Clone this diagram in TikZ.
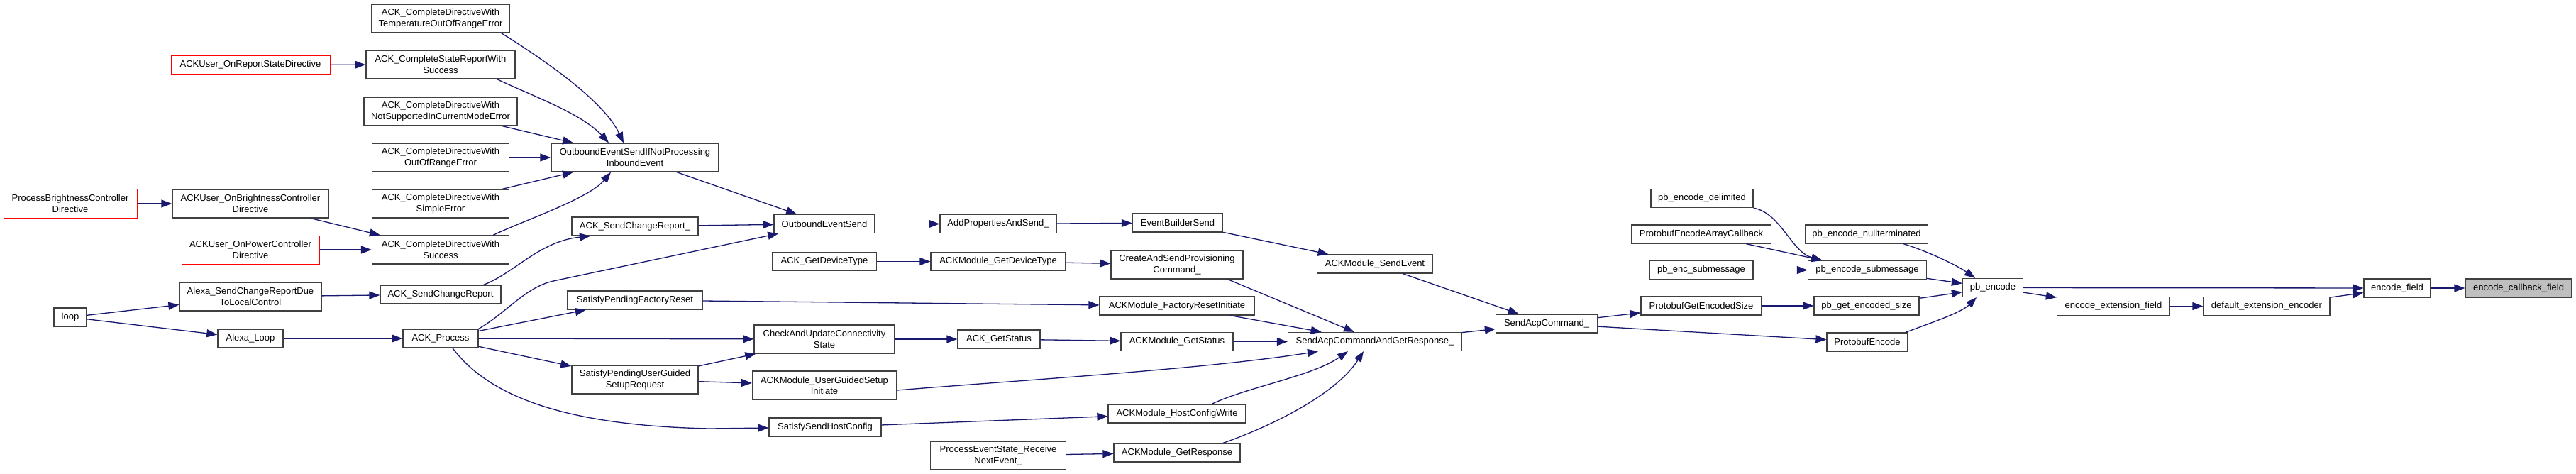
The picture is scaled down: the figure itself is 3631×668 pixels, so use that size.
\documentclass[tikz,border=0pt]{standalone}
\usepackage{fontspec}
\setmainfont{Liberation Sans}
\usepackage{xcolor}
\usepackage{tikz}
\usetikzlibrary{arrows.meta, positioning}
\definecolor{midblue}{HTML}{191970}
\definecolor{boxgrey}{HTML}{404040}
\definecolor{rootfill}{HTML}{BFBFBF}

\tikzset{
    fnbox/.style={draw=boxgrey, line width=1.3pt, fill=white, minimum height=26pt, inner sep=2pt, align=center},
    twoline/.style={minimum height=40pt},
    truncbox/.style={fnbox, draw=red, line width=1pt},
    rootbox/.style={fnbox, fill=rootfill},
    call/.style={-{Triangle[length=15pt, width=11pt]}, draw=midblue, line width=1.3pt}
}

\begin{document}
\begin{tikzpicture}[x=1pt, y=-1pt, font=\fontsize{13}{15.3}\selectfont]
    \fill[white] (0,0) rectangle (3631,668);
    \useasboundingbox (0,0) rectangle (3631,668);

    % Callers of the directive helpers
    \node[truncbox, twoline, minimum width=188] (procBright) at (99,287) {ProcessBrightnessController\\Directive};
    \node[fnbox, minimum width=46] (loop) at (99,447) {loop};
    \node[truncbox, minimum width=224] (onReport) at (353,91.5) {ACKUser\_OnReportStateDirective};
    \node[fnbox, twoline, minimum width=220] (onBright) at (353,287) {ACKUser\_OnBrightnessController\\Directive};
    \node[truncbox, twoline, minimum width=194] (onPower) at (353,352) {ACKUser\_OnPowerController\\Directive};
    \node[fnbox, twoline, minimum width=200] (alexaRep) at (353,418) {Alexa\_SendChangeReportDue\\ToLocalControl};
    \node[fnbox, minimum width=92] (alexaLoop) at (353,477) {Alexa\_Loop};

    % ACK_Complete* column
    \node[fnbox, twoline, minimum width=194] (tempErr) at (621,26) {ACK\_CompleteDirectiveWith\\TemperatureOutOfRangeError};
    \node[fnbox, twoline, minimum width=210] (stateOk) at (621,91) {ACK\_CompleteStateReportWith\\Success};
    \node[fnbox, twoline, minimum width=216] (notSupp) at (621,157) {ACK\_CompleteDirectiveWith\\NotSupportedInCurrentModeError};
    \node[fnbox, twoline, minimum width=193] (rangeErr) at (621,222) {ACK\_CompleteDirectiveWith\\OutOfRangeError};
    \node[fnbox, twoline, minimum width=193] (simpleErr) at (621,287) {ACK\_CompleteDirectiveWith\\SimpleError};
    \node[fnbox, twoline, minimum width=193] (dirOk) at (621,352) {ACK\_CompleteDirectiveWith\\Success};
    \node[fnbox, minimum width=170] (sendRep) at (621,415) {ACK\_SendChangeReport};
    \node[fnbox, minimum width=106] (process) at (621,477) {ACK\_Process};

    % Next column
    \node[fnbox, twoline, minimum width=236] (outIfNot) at (895,222) {OutboundEventSendIfNotProcessing\\InboundEvent};
    \node[fnbox, minimum width=178] (sendRepU) at (895,319) {ACK\_SendChangeReport\_};
    \node[fnbox, minimum width=190] (factReset) at (895,423) {SatisfyPendingFactoryReset};
    \node[fnbox, twoline, minimum width=178] (userGuided) at (895,535) {SatisfyPendingUserGuided\\SetupRequest};

    \node[fnbox, minimum width=142] (outSend) at (1162,315.5) {OutboundEventSend};
    \node[fnbox, minimum width=147] (getDevType) at (1162,368.5) {ACK\_GetDeviceType};
    \node[fnbox, twoline, minimum width=198] (checkConn) at (1162,478) {CheckAndUpdateConnectivity\\State};
    \node[fnbox, twoline, minimum width=203] (modUserGuided) at (1162,543) {ACKModule\_UserGuidedSetup\\Initiate};
    \node[fnbox, minimum width=158] (hostCfg) at (1163,602) {SatisfySendHostConfig};

    \node[fnbox, minimum width=164] (addProps) at (1407,315.5) {AddPropertiesAndSend\_};
    \node[fnbox, minimum width=190] (modDevType) at (1407,368.5) {ACKModule\_GetDeviceType};
    \node[fnbox, minimum width=116] (getStatus) at (1408,478) {ACK\_GetStatus};
    \node[fnbox, twoline, minimum width=191] (recvNext) at (1407,642) {ProcessEventState\_Receive\\NextEvent\_};

    % ACKModule layer
    \node[fnbox, minimum width=127] (builderSend) at (1660,314) {EventBuilderSend};
    \node[fnbox, twoline, minimum width=186] (provCmd) at (1659,373) {CreateAndSendProvisioning\\Command\_};
    \node[fnbox, minimum width=218] (modFactReset) at (1659,431) {ACKModule\_FactoryResetInitiate};
    \node[fnbox, minimum width=158] (modStatus) at (1659,481.5) {ACKModule\_GetStatus};
    \node[fnbox, minimum width=194] (modHostCfg) at (1659,583) {ACKModule\_HostConfigWrite};
    \node[fnbox, minimum width=178] (modResp) at (1659,638) {ACKModule\_GetResponse};

    \node[fnbox, minimum width=163] (modSendEvt) at (1938,372) {ACKModule\_SendEvent};
    \node[fnbox, minimum width=245] (acpResp) at (1938,481.5) {SendAcpCommandAndGetResponse\_};
    \node[fnbox, minimum width=143] (acpCmd) at (2180,456) {SendAcpCommand\_};

    % Protobuf / nanopb
    \node[fnbox, minimum width=144] (pbDelim) at (2399,279.5) {pb\_encode\_delimited};
    \node[fnbox, minimum width=197] (arrayCb) at (2398,330) {ProtobufEncodeArrayCallback};
    \node[fnbox, minimum width=146] (encSub) at (2398,380.5) {pb\_enc\_submessage};
    \node[fnbox, minimum width=170] (getSize) at (2398,431) {ProtobufGetEncodedSize};
    \node[fnbox, minimum width=173] (nullTerm) at (2631,330) {pb\_encode\_nullterminated};
    \node[fnbox, minimum width=167] (pbSub) at (2632,380.5) {pb\_encode\_submessage};
    \node[fnbox, minimum width=148] (pbSize) at (2631,431) {pb\_get\_encoded\_size};
    \node[fnbox, minimum width=114] (pbufEncode) at (2632,482) {ProtobufEncode};
    \node[fnbox, minimum width=85] (pbEncode) at (2809,405.5) {pb\_encode};
    \node[fnbox, minimum width=159] (extField) at (2979,431.5) {encode\_extension\_field};
    \node[fnbox, minimum width=178] (extEnc) at (3195,431.5) {default\_extension\_encoder};
    \node[fnbox, minimum width=94] (encField) at (3379,406) {encode\_field};
    \node[rootbox, minimum width=150] (cbField) at (3550,406) {encode\_callback\_field};

    % Straight calls
    \foreach \a/\b in {procBright/onBright, onReport/stateOk, onBright/dirOk, onPower/dirOk,
        loop/alexaRep, loop/alexaLoop, alexaRep/sendRep, alexaLoop/process,
        notSupp/outIfNot, rangeErr/outIfNot, simpleErr/outIfNot,
        process/factReset, process/checkConn, process/userGuided,
        outIfNot/outSend, sendRepU/outSend, outSend/addProps, addProps/builderSend,
        builderSend/modSendEvt, getDevType/modDevType, modDevType/provCmd,
        factReset/modFactReset, userGuided/checkConn, userGuided/modUserGuided,
        checkConn/getStatus, getStatus/modStatus, hostCfg/modHostCfg, recvNext/modResp,
        modFactReset/acpResp, modStatus/acpResp, modSendEvt/acpCmd, acpResp/acpCmd,
        acpCmd/getSize, acpCmd/pbufEncode, getSize/pbSize, arrayCb/pbSub, encSub/pbSub,
        pbSub/pbEncode, pbSize/pbEncode, pbEncode/encField, pbEncode/extField,
        extField/extEnc, extEnc/encField, encField/cbField}{
        \draw[call] (\a) -- (\b);
    }

    % Curved calls
    \draw[call] ([xshift=-12pt]tempErr.south east) .. controls (760,80) and (850,140) .. ([xshift=-16pt]outIfNot.north);
    \draw[call] ([xshift=-26pt]stateOk.south east) .. controls (750,135) and (820,160) .. ([xshift=-37pt]outIfNot.north);
    \draw[call] ([xshift=-23pt]dirOk.north east) .. controls (740,310) and (830,280) .. ([xshift=-34pt]outIfNot.south);
    \draw[call] ([xshift=-25pt]sendRep.north east) .. controls (725,385) and (760,340) .. ([xshift=-63pt]sendRepU.south);
    \draw[call] (process.north east) .. controls (715,440) and (740,405) .. (780,396) -- (outSend);
    \draw[call] ([xshift=17pt]process.south) .. controls (690,560) and (800,600) .. (1000,604) -- (hostCfg);
    \draw[call] ([xshift=-22pt]provCmd.south east) -- ([xshift=-29pt]acpResp.north);
    \draw[call] ([yshift=-7pt]modUserGuided.east) .. controls (1450,535) and (1700,520) .. ([xshift=-80pt]acpResp.south);
    \draw[call] ([xshift=49pt]modHostCfg.north) .. controls (1760,545) and (1850,530) .. ([xshift=-38pt]acpResp.south);
    \draw[call] ([xshift=65pt]modResp.north) .. controls (1780,605) and (1880,560) .. ([xshift=-16pt]acpResp.south);
    \draw[call] (pbDelim.south east) .. controls (2510,300) and (2525,355) .. ([xshift=-64pt]pbSub.north);
    \draw[call] ([xshift=52pt]nullTerm.south) .. controls (2720,355) and (2760,375) .. ([xshift=-25pt]pbEncode.north);
    \draw[call] ([xshift=54pt]pbufEncode.north) .. controls (2730,452) and (2765,440) .. ([xshift=-23pt]pbEncode.south);
\end{tikzpicture}
\end{document}
